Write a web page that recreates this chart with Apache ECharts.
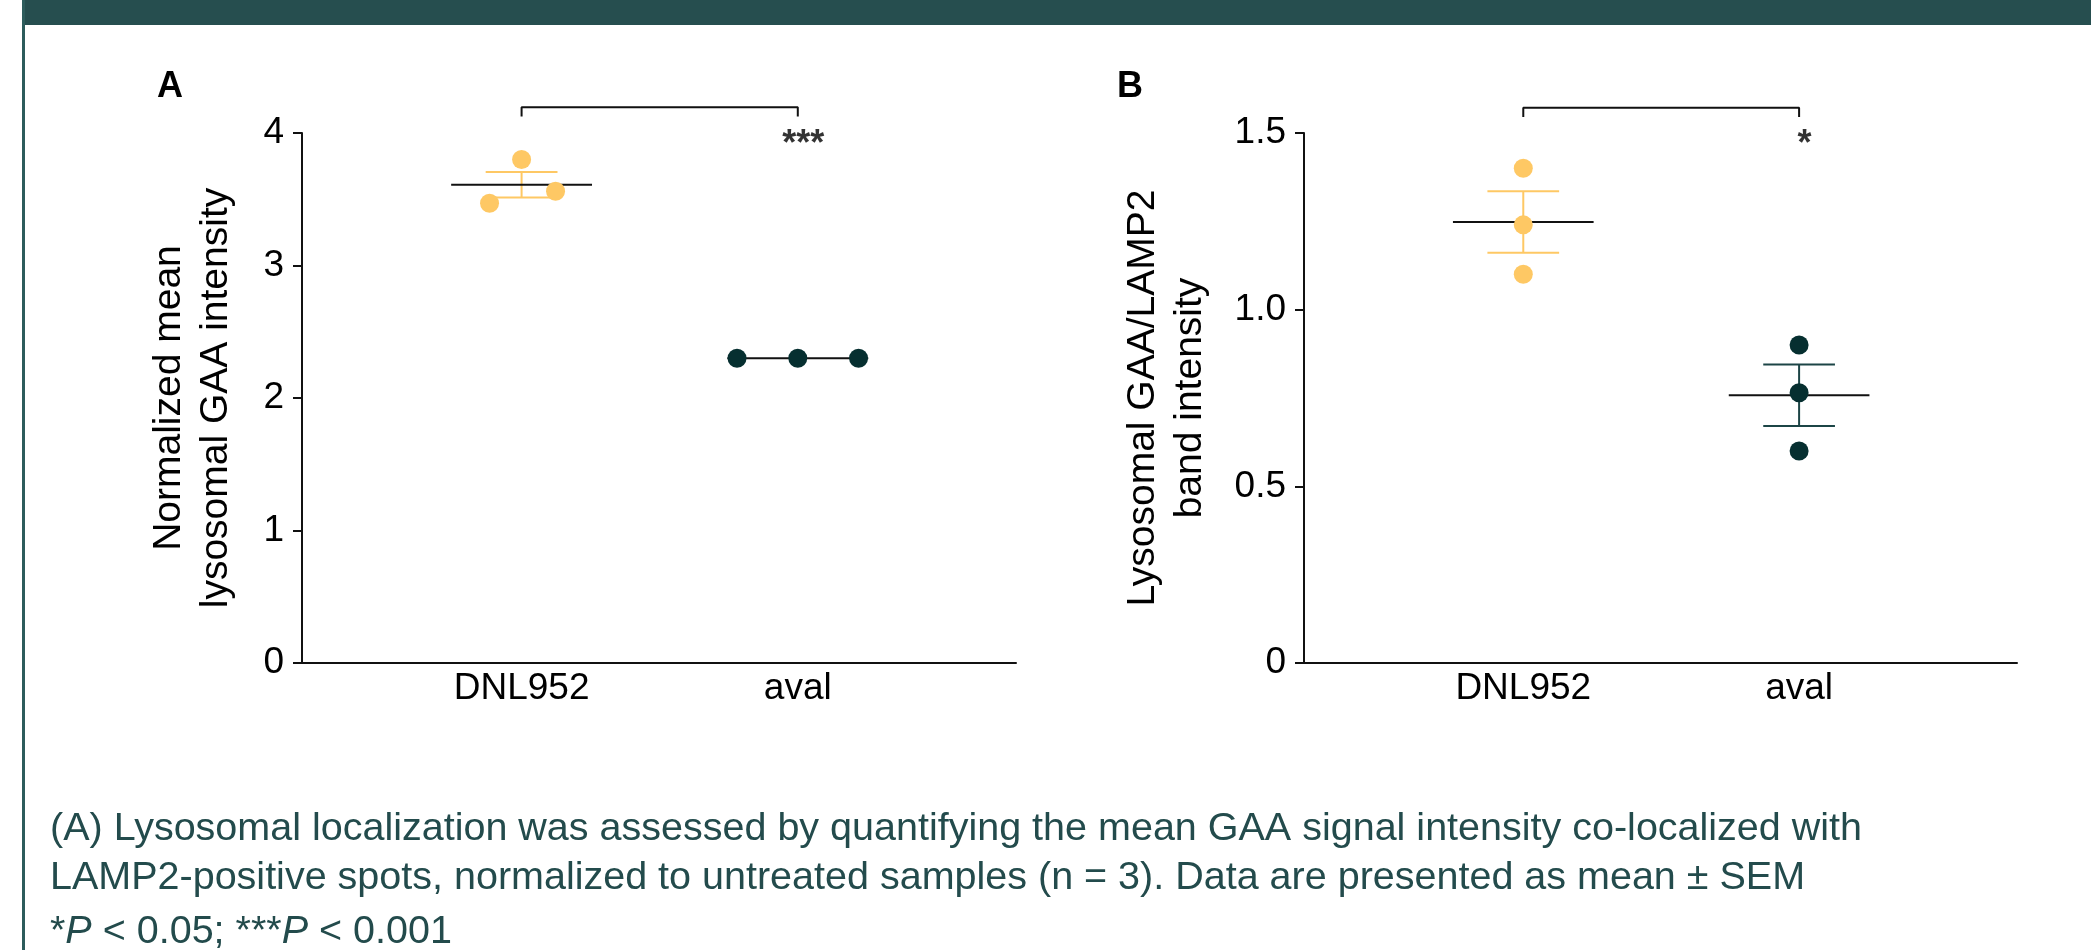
<!DOCTYPE html>
<html>
<head>
<meta charset="utf-8">
<script src="https://cdn.jsdelivr.net/npm/echarts@6/dist/echarts.min.js"></script>
<style>
  html, body { margin: 0; padding: 0; background: #fff; }
  #main { width: 2091px; height: 950px; }
</style>
</head>
<body>
<div id="main"></div>
<script>
var categories = ['DNL952', 'aval'];

// A: normalized mean lysosomal GAA intensity (n = 3)
var gaaDnl = [3.47, 3.80, 3.56];
var gaaAval = [2.30, 2.30, 2.30];
var gaaMean = [3.61, 2.30];
var gaaSem = [0.096, 0];

// B: lysosomal GAA/LAMP2 band intensity (n = 3)
var bandDnl = [1.40, 1.24, 1.10];
var bandAval = [0.90, 0.765, 0.60];
var bandMean = [1.248, 0.758];
var bandSem = [0.087, 0.087];

var stars = ['***', '*'];

// horizontal spread of overlapping dots (category units)
var swarmA = [[-0.116, 0, 0.123], [-0.22, 0, 0.22]];
var swarmB = [[0, 0, 0], [0, 0, 0]];

var FONT = '"Liberation Sans", Arial, Helvetica, sans-serif';
var YELLOW = '#fec864', DARK = '#062f30', BARDARK = '#1c4546';
var barColors = [YELLOW, BARDARK];

var chart = echarts.init(document.getElementById('main'));

function errorBars(params, api) {
  var i = params.dataIndex;
  var x = api.value(0), m = api.value(1), s = api.value(2);
  var c = api.coord([x, m]);
  var hi = api.coord([x, m + s]);
  var lo = api.coord([x, m - s]);
  var capW = api.size([0.13, 0])[0];
  var meanW = api.size([0.255, 0])[0];
  var st = { stroke: barColors[i], lineWidth: 2 };
  var kids = [];
  if (s > 0) {
    kids.push({ type: 'line', shape: { x1: c[0], y1: hi[1], x2: c[0], y2: lo[1] }, style: st });
    kids.push({ type: 'line', shape: { x1: c[0] - capW, y1: hi[1], x2: c[0] + capW, y2: hi[1] }, style: st });
    kids.push({ type: 'line', shape: { x1: c[0] - capW, y1: lo[1], x2: c[0] + capW, y2: lo[1] }, style: st });
  }
  kids.push({ type: 'line', shape: { x1: c[0] - meanW, y1: c[1], x2: c[0] + meanW, y2: c[1] },
    style: { stroke: '#111', lineWidth: 2 } });
  return { type: 'group', children: kids };
}

function xAxisFor(g) {
  return {
    type: 'value', gridIndex: g, min: 0.205, max: 2.79,
    axisLine: { show: true, onZero: false, lineStyle: { color: '#111', width: 2 } },
    axisTick: { show: false },
    splitLine: { show: false },
    axisLabel: {
      customValues: [1, 2], margin: 7, fontSize: 37, color: '#000', fontFamily: FONT,
      formatter: function (v) { return categories[Math.round(v) - 1]; }
    }
  };
}

function yAxisFor(g, max, step, name, gap, fmt) {
  return {
    type: 'value', gridIndex: g, min: 0, max: max, interval: step,
    axisLine: { show: true, onZero: false, lineStyle: { color: '#111', width: 2 } },
    axisTick: { show: true, length: 9, lineStyle: { color: '#111', width: 2 } },
    splitLine: { show: false },
    axisLabel: { margin: 18, fontSize: 37, color: '#000', fontFamily: FONT, formatter: fmt },
    name: name, nameLocation: 'middle', nameRotate: 90, nameGap: gap,
    nameTextStyle: { fontSize: 39, lineHeight: 47, color: '#000', fontFamily: FONT, align: 'center' }
  };
}

function panelSeries(g, dnl, aval, mean, sem, swarm, bracketTop, bracketDrop, starY, star) {
  return [
    {
      type: 'custom', xAxisIndex: g, yAxisIndex: g, renderItem: errorBars, z: 2,
      data: [[1, mean[0], sem[0]], [2, mean[1], sem[1]]]
    },
    {
      type: 'scatter', xAxisIndex: g, yAxisIndex: g, symbolSize: 19, z: 3,
      itemStyle: { color: YELLOW, opacity: 1 },
      data: dnl.map(function (v, k) { return [1 + swarm[0][k], v]; })
    },
    {
      type: 'scatter', xAxisIndex: g, yAxisIndex: g, symbolSize: 19, z: 3,
      itemStyle: { color: DARK, opacity: 1 },
      data: aval.map(function (v, k) { return [2 + swarm[1][k], v]; })
    },
    {
      type: 'line', xAxisIndex: g, yAxisIndex: g, clip: false, symbol: 'none', z: 4,
      lineStyle: { color: '#111', width: 2 },
      data: [[1, bracketTop - bracketDrop], [1, bracketTop], [2, bracketTop], [2, bracketTop - bracketDrop]]
    },
    {
      type: 'scatter', xAxisIndex: g, yAxisIndex: g, symbolSize: 1, z: 5,
      itemStyle: { color: 'rgba(0,0,0,0)' },
      label: { show: true, position: 'inside', formatter: star, fontSize: 36, fontWeight: 'bold',
        color: '#000', fontFamily: FONT },
      data: [[2.02, starY]]
    }
  ];
}

var capFont = '39.5px ' + FONT;
var capColor = '#234b4c';

var option = {
  animation: false,
  title: [
    { text: 'A', left: 157, top: 69, padding: 0,
      textStyle: { fontSize: 36, fontWeight: 'bold', color: '#000', fontFamily: FONT } },
    { text: 'B', left: 1117, top: 69, padding: 0,
      textStyle: { fontSize: 36, fontWeight: 'bold', color: '#000', fontFamily: FONT } }
  ],
  grid: [
    { left: 302, top: 133, width: 714, height: 530 },
    { left: 1304, top: 133, width: 713, height: 530 }
  ],
  xAxis: [xAxisFor(0), xAxisFor(1)],
  yAxis: [
    yAxisFor(0, 4, 1, 'Normalized mean\nlysosomal GAA intensity', 62,
      function (v) { return String(v); }),
    yAxisFor(1, 1.5, 0.5, 'Lysosomal GAA/LAMP2\nband intensity', 90,
      function (v) { return v === 0 ? '0' : v.toFixed(1); })
  ],
  series: [].concat(
    panelSeries(0, gaaDnl, gaaAval, gaaMean, gaaSem, swarmA, 4.195, 0.07, 3.91, stars[0]),
    panelSeries(1, bandDnl, bandAval, bandMean, bandSem, swarmB, 1.5715, 0.026, 1.465, stars[1])
  ),
  graphic: [
    { type: 'rect', shape: { x: 23, y: 0, width: 2068, height: 25 }, style: { fill: '#264e4f' } },
    { type: 'rect', shape: { x: 22, y: 0, width: 3, height: 950 }, style: { fill: '#2d5c5c' } },
    { type: 'text', x: 50, y: 829,
      style: { text: '(A) Lysosomal localization was assessed by quantifying the mean GAA signal intensity co-localized with',
        font: capFont, fill: capColor, verticalAlign: 'middle' } },
    { type: 'text', x: 50, y: 878,
      style: { text: 'LAMP2-positive spots, normalized to untreated samples (n = 3). Data are presented as mean \u00b1 SEM',
        font: capFont, fill: capColor, verticalAlign: 'middle' } },
    { type: 'text', x: 50, y: 932,
      style: { text: '{n|*}{i|P}{n| < 0.05; ***}{i|P}{n| < 0.001}',
        rich: {
          n: { fontSize: 39.5, fontFamily: FONT, fill: capColor },
          i: { fontSize: 39.5, fontFamily: FONT, fontStyle: 'italic', fill: capColor }
        },
        verticalAlign: 'middle' } }
  ]
};

chart.setOption(option);
</script>
</body>
</html>
